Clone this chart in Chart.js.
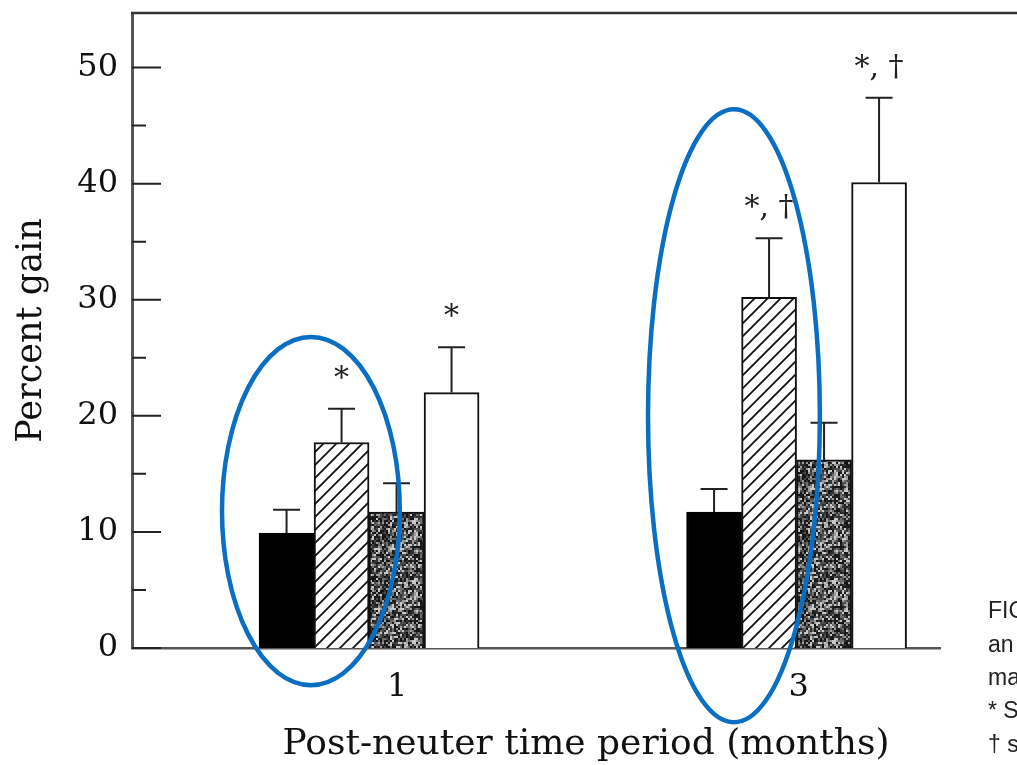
<!DOCTYPE html>
<html>
<head>
<meta charset="utf-8">
<script src="https://cdn.jsdelivr.net/npm/chart.js@4"></script>
<style>
html, body { margin: 0; padding: 0; background: #fff; }
</style>
</head>
<body>
<canvas id="chart" width="1017" height="765"></canvas>
<script>
'use strict';

// post-neuter periods (months)
var months = [1, 3];
var monthLabels = ['1', '3'];

// mean percent gain per group
var blackVals   = [9.9, 11.7];
var hatchVals   = [17.7, 30.2];
var stippleVals = [11.7, 16.2];
var whiteVals   = [22.0, 40.1];

// upper error bars
var blackErr   = [2.0, 2.0];
var hatchErr   = [2.9, 5.1];
var stippleErr = [2.5, 3.2];
var whiteErr   = [3.9, 7.3];

// significance marks
var blackMarks   = ['', ''];
var hatchMarks   = ['*', '*, †'];
var stippleMarks = ['', ''];
var whiteMarks   = ['*', '*, †'];

// y axis ticks (labels on every 10)
var yTicks = [0, 5, 10, 15, 20, 25, 30, 35, 40, 45, 50];

// cut-off caption at the right edge
var caption = ['FIG', 'an', 'ma', '* S', '† s'];

var serif = '"DejaVu Serif", serif';

// the printed "1" sits a bit right of its group
var labelShift = [28, 2];

//blue rings drawn over the figure (data coords)
var rings = [
	{ x: 0.728, y: 11.8, rx: 0.416, ry: 15.0 },
	{ x: 2.707, y: 20.0, rx: 0.402, ry: 26.4 }
];

function hatchPattern() {
	var c = document.createElement('canvas');
	c.width = 13; c.height = 13;
	var g = c.getContext('2d');
	g.fillStyle = '#fff';
	g.fillRect(0, 0, 13, 13);
	g.strokeStyle = '#111';
	g.lineWidth = 1.8;
	g.beginPath();
	g.moveTo(-2, 15); g.lineTo(15, -2);
	g.moveTo(-2, 2); g.lineTo(2, -2);
	g.moveTo(11, 15); g.lineTo(15, 11);
	g.stroke();
	return g.createPattern(c, 'repeat');
}

//深灰色點狀紋理 (fixed hash, no random)
function stipplePattern() {
	var n = 60;
	var c = document.createElement('canvas');
	c.width = n; c.height = n;
	var g = c.getContext('2d');
	var shades = ['#141414', '#1e1e1e', '#333', '#4c4c4c', '#6e6e6e', '#9c9c9c', '#c8c8c8'];
	for (var i = 0; i < n; i += 2) {
		for (var j = 0; j < n; j += 2) {
			var h = (i * 374761393 + j * 668265263) | 0;
			h = Math.imul(h ^ (h >>> 13), 1274126177);
			h = ((h ^ (h >>> 16)) >>> 0) % shades.length;
			g.fillStyle = shades[h];
			g.fillRect(i, j, 2, 2);
		}
	}
	return g.createPattern(c, 'repeat');
}

function pts(vals) {
	return months.map(function (m, i) { return { x: m, y: vals[i] }; });
}

var allVals  = [blackVals, hatchVals, stippleVals, whiteVals];
var allErr   = [blackErr, hatchErr, stippleErr, whiteErr];
var allMarks = [blackMarks, hatchMarks, stippleMarks, whiteMarks];

var decor = {
	id: 'decor',
	afterDatasetsDraw: function (chart) {
		var ctx = chart.ctx;
		var y = chart.scales.y;
		ctx.save();
		ctx.strokeStyle = '#222';
		ctx.fillStyle = '#222';
		ctx.lineWidth = 2;
		ctx.font = '30px ' + serif;
		ctx.textAlign = 'center';
		ctx.textBaseline = 'middle';
		allErr.forEach(function (errs, di) {
			var meta = chart.getDatasetMeta(di);
			meta.data.forEach(function (bar, i) {
				var top = y.getPixelForValue(allVals[di][i] + errs[i]);
				ctx.beginPath();
				ctx.moveTo(bar.x, bar.y);
				ctx.lineTo(bar.x, top);
				ctx.moveTo(bar.x - 13.5, top);
				ctx.lineTo(bar.x + 13.5, top);
				ctx.stroke();
				if (allMarks[di][i]) {
					ctx.fillText(allMarks[di][i], bar.x, top - 30);
				}
			});
		});
		ctx.restore();
	},
	afterDraw: function (chart) {
		var ctx = chart.ctx;
		var a = chart.chartArea;
		var x = chart.scales.x;
		var y = chart.scales.y;
		ctx.save();
		// inward y ticks
		ctx.strokeStyle = '#222';
		ctx.lineWidth = 2;
		ctx.beginPath();
		yTicks.forEach(function (v) {
			var py = y.getPixelForValue(v);
			var len = v % 10 === 0 ? 29 : 14;
			ctx.moveTo(a.left, py);
			ctx.lineTo(a.left + len, py);
		});
		ctx.stroke();
		// top frame line running off the page
		ctx.strokeStyle = '#333';
		ctx.lineWidth = 2.5;
		ctx.beginPath();
		ctx.moveTo(a.left - 1, a.top);
		ctx.lineTo(chart.width, a.top);
		ctx.stroke();
		// x tick labels
		ctx.fillStyle = '#111';
		ctx.font = '32px ' + serif;
		ctx.textAlign = 'center';
		ctx.textBaseline = 'middle';
		months.forEach(function (m, i) {
			ctx.fillText(monthLabels[i], x.getPixelForValue(m) + labelShift[i], a.bottom + 40);
		});
		// x title
		ctx.font = '36px ' + serif;
		ctx.fillText('Post-neuter time period (months)', 586, 745);
		// caption fragment
		ctx.font = '23px "Liberation Sans", Arial, sans-serif';
		ctx.textAlign = 'left';
		ctx.fillStyle = '#222';
		caption.forEach(function (t, i) {
			ctx.fillText(t, 988, 612 + i * 33.3);
		});
		// blue rings
		ctx.strokeStyle = '#0a6fc2';
		ctx.lineWidth = 4.5;
		rings.forEach(function (r) {
			var cx = x.getPixelForValue(r.x);
			var cy = y.getPixelForValue(r.y);
			var rx = x.getPixelForValue(r.x + r.rx) - cx;
			var ry = cy - y.getPixelForValue(r.y + r.ry);
			ctx.beginPath();
			ctx.ellipse(cx, cy, rx, ry, 0, 0, Math.PI * 2);
			ctx.stroke();
		});
		ctx.restore();
	}
};

var ctx = document.getElementById('chart');
var chart = new Chart(ctx, {
	type: 'bar',
	data: {
		datasets: [
			{ data: pts(blackVals), backgroundColor: '#000', borderColor: '#000', borderWidth: 2 },
			{ data: pts(hatchVals), backgroundColor: hatchPattern(), borderColor: '#111', borderWidth: 2 },
			{ data: pts(stippleVals), backgroundColor: stipplePattern(), borderColor: '#111', borderWidth: 2 },
			{ data: pts(whiteVals), backgroundColor: '#fff', borderColor: '#111', borderWidth: 2 }
		]
	},
	options: {
		responsive: false,
		animation: false,
		barThickness: 55,
		layout: { padding: { left: 0, top: 13, right: 77, bottom: 0 } },
		plugins: { legend: { display: false }, tooltip: { enabled: false } },
		scales: {
			x: {
				type: 'linear',
				offset: false,
				min: -0.109,
				max: 3.671,
				grid: { display: false, drawTicks: false },
				border: { display: true, color: '#555', width: 2.5 },
				afterBuildTicks: function (scale) {
					scale.ticks = months.map(function (m) { return { value: m }; });
				},
				afterFit: function (scale) {
					scale.height = 117;
					scale.paddingLeft = 0;
					scale.paddingRight = 0;
				},
				ticks: { display: false }
			},
			y: {
				min: 0,
				max: 54.7,
				grid: { display: false, drawTicks: false },
				border: { display: true, color: '#555', width: 3 },
				afterBuildTicks: function (scale) {
					scale.ticks = yTicks.map(function (v) { return { value: v }; });
				},
				afterFit: function (scale) {
					scale.width = 132;
					scale.paddingTop = 0;
					scale.paddingBottom = 0;
				},
				ticks: {
					autoSkip: false,
					padding: 14,
					color: '#111',
					font: { family: serif, size: 32 },
					callback: function (v) { return v % 10 === 0 ? v : ''; }
				},
				title: {
					display: true,
					text: 'Percent gain',
					color: '#111',
					font: { family: serif, size: 35 },
					padding: { top: 11, bottom: 0 }
				}
			}
		}
	},
	plugins: [decor]
});
</script>
</body>
</html>
